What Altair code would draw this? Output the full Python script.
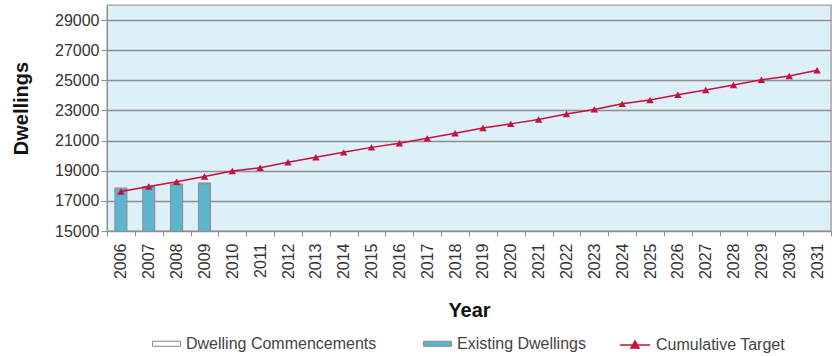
import altair as alt
import pandas as pd

# Categories on the x axis
years = ["2006", "2007", "2008", "2009", "2010", "2011", "2012", "2013", "2014",
         "2015", "2016", "2017", "2018", "2019", "2020", "2021", "2022", "2023",
         "2024", "2025", "2026", "2027", "2028", "2029", "2030", "2031"]

# Cumulative dwelling target per year
cumulative_target = [17620, 17950, 18270, 18620, 18980, 19200, 19560, 19890, 20220,
                     20550, 20820, 21150, 21490, 21840, 22110, 22400, 22760, 23070,
                     23440, 23690, 24040, 24360, 24690, 25040, 25290, 25670]

# Actual dwellings (stacked bars)
bar_years = ["2006", "2007", "2008", "2009"]
existing_dwellings = [17800, 17900, 18070, 18140]
dwelling_commencements = [50, 50, 50, 50]

y_ticks = [15000, 17000, 19000, 21000, 23000, 25000, 27000, 29000]

FONT = "Liberation Sans"
GRID = "#8e8e8e"
BAR_BLUE = "#5db4cf"
TARGET_RED = "#c8103e"

bars_df = pd.DataFrame({
    "Year": bar_years * 2,
    "Dwellings": existing_dwellings + dwelling_commencements,
    "Bar Series": ["Existing Dwellings"] * 4 + ["Dwelling Commencements"] * 4,
    "Stack": [0] * 4 + [1] * 4,
})
line_df = pd.DataFrame({
    "Year": years,
    "Dwellings": cumulative_target,
    "Line Series": ["Cumulative Target"] * len(years),
})

x_enc = alt.X(
    "Year:N",
    scale=alt.Scale(domain=years, paddingInner=0, paddingOuter=0),
    axis=alt.Axis(
        title="Year", labelAngle=-90, labelAlign="right", labelBaseline="middle",
        labelPadding=7, tickSize=5, tickBand="extent", tickColor=GRID,
        domainColor=GRID, labelFontSize=16, labelColor="#333333", labelFont=FONT,
        titleFont=FONT, titleFontSize=20, titleFontWeight="bold", titleColor="#111111",
        titleBaseline="alphabetic", titleY=85, grid=False,
    ),
)
y_scale = alt.Scale(domain=[15000, 30000], nice=False, zero=False)
y_axis = alt.Axis(
    title="Dwellings", values=y_ticks, format="d", grid=True, gridColor=GRID,
    gridWidth=1.4, tickSize=6, tickColor=GRID, domainColor=GRID, labelPadding=2,
    labelFontSize=16, labelColor="#333333", labelFont=FONT, titleFont=FONT,
    titleFontSize=20, titleFontWeight="bold", titleColor="#111111",
    titleBaseline="alphabetic", titleX=-80, titleY=103,
)

bars = alt.Chart(bars_df).mark_bar(
    size=12, stroke="#8a8a8a", strokeWidth=1, clip=True
).encode(
    x=x_enc,
    y=alt.Y("sum(Dwellings):Q", scale=y_scale, axis=y_axis, stack="zero"),
    fill=alt.Fill(
        "Bar Series:N",
        scale=alt.Scale(domain=["Dwelling Commencements", "Existing Dwellings"],
                        range=["#ffffff", BAR_BLUE]),
        legend=alt.Legend(
            title=None, orient="none", legendX=45, legendY=324,
            direction="horizontal", symbolType="M-1,-0.18L1,-0.18L1,0.18L-1,0.18Z",
            symbolSize=784, symbolStrokeColor="#8a8a8a", symbolStrokeWidth=1,
            labelFontSize=16, labelFont=FONT, labelColor="#444444", labelOffset=5,
            labelLimit=0, columnPadding=44,
        ),
    ),
    order=alt.Order("Stack:Q"),
)

line = alt.Chart(line_df).mark_line(strokeWidth=1.5).encode(
    x=x_enc,
    y=alt.Y("Dwellings:Q", scale=y_scale, axis=y_axis),
    stroke=alt.Stroke(
        "Line Series:N",
        scale=alt.Scale(domain=["Cumulative Target"], range=[TARGET_RED]),
        legend=alt.Legend(
            title=None, orient="none", legendX=512, legendY=324,
            symbolType="M-1,0L1,0M-0.27,0.2L0,-0.27L0.27,0.2Z", symbolSize=900,
            symbolStrokeWidth=1.5, symbolFillColor=TARGET_RED,
            labelFontSize=16, labelFont=FONT, labelColor="#444444", labelOffset=5,
            labelLimit=0,
        ),
    ),
)

points = alt.Chart(line_df).mark_point(
    shape="triangle-up", size=55, filled=True, color=TARGET_RED, opacity=1
).encode(
    x=x_enc,
    y=alt.Y("Dwellings:Q", scale=y_scale, axis=y_axis),
)

chart = alt.layer(bars, line, points).properties(
    width=724, height=226,
    autosize=alt.AutoSizeParams(type="none"),
    padding={"left": 107, "top": 5, "right": 1, "bottom": 125},
).configure_view(
    fill="#ddeff7", stroke="#a0a0a0", strokeWidth=1.4
)

chart.save("out.html", embed_options={"renderer": "svg", "actions": False})
